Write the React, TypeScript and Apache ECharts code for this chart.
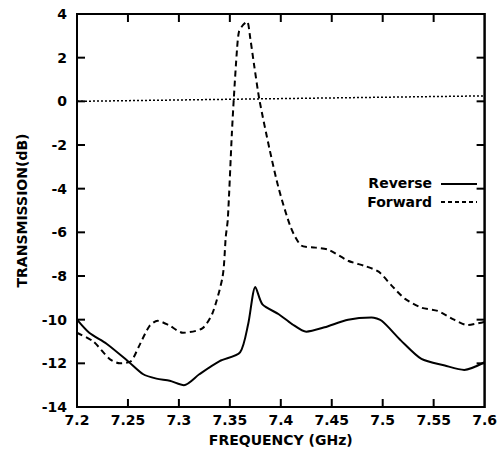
import React, { useEffect, useRef } from "react";
import * as echarts from "echarts";

const xTicks = [7.2, 7.25, 7.3, 7.35, 7.4, 7.45, 7.5, 7.55, 7.6];
const yTicks = [-14, -12, -10, -8, -6, -4, -2, 0, 2, 4];

const reverseFreq = [7.2, 7.212, 7.229, 7.25, 7.265, 7.278, 7.291, 7.305, 7.32, 7.34, 7.36, 7.368, 7.375, 7.382, 7.398, 7.411, 7.425, 7.443, 7.466, 7.489, 7.499, 7.518, 7.538, 7.561, 7.58, 7.6];
const reverseDb = [-10.0, -10.6, -11.1, -11.9, -12.5, -12.7, -12.8, -13.0, -12.5, -11.9, -11.5, -10.2, -8.5, -9.3, -9.75, -10.2, -10.55, -10.35, -10.0, -9.9, -10.05, -10.96, -11.8, -12.1, -12.3, -11.95];

const forwardFreq = [7.2, 7.216, 7.232, 7.242, 7.253, 7.261, 7.271, 7.279, 7.29, 7.304, 7.323, 7.333, 7.343, 7.346, 7.348, 7.352, 7.354, 7.357, 7.359, 7.363, 7.367, 7.37, 7.374, 7.379, 7.389, 7.398, 7.41, 7.42, 7.434, 7.447, 7.466, 7.483, 7.496, 7.509, 7.522, 7.538, 7.554, 7.57, 7.583, 7.595, 7.6];
const forwardDb = [-10.6, -11.0, -11.8, -12.0, -11.9, -11.2, -10.3, -10.05, -10.25, -10.6, -10.4, -9.7, -8.0, -6.2, -5.4, -1.45, 0.22, 2.36, 3.2, 3.5, 3.65, 2.9, 1.6, 0.07, -2.2, -4.0, -5.8, -6.6, -6.7, -6.8, -7.3, -7.55, -7.8, -8.45, -9.05, -9.45, -9.6, -10.0, -10.25, -10.15, -10.1];

const zeroFreq = [7.2, 7.6];
const zeroDb = [0, 0.25];

const legendNames = ["Reverse", "Forward"];

const FONT = "DejaVu Sans";

export default function App() {
  const ref = useRef<HTMLDivElement>(null);
  useEffect(() => {
    if (!ref.current) return;
    document.body.style.margin = "0";
    const chart = echarts.init(ref.current, null, { renderer: "svg" });
    const fmt = (v: number) => String(parseFloat(v.toFixed(2)));
    const labelStyle = () => ({ color: "#000", fontFamily: FONT, fontWeight: "bold" as const, fontSize: 14 });
    const xMin = xTicks[0], xMax = xTicks[xTicks.length - 1];
    const yMin = yTicks[0], yMax = yTicks[yTicks.length - 1];
    chart.setOption({
      animation: false,
      grid: { left: 77, right: 14, top: 14, bottom: 45, show: true, borderColor: "#000", borderWidth: 2 },
      xAxis: {
        type: "value", min: xMin, max: xMax, interval: 0.05,
        axisLine: { show: false }, axisTick: { show: false }, splitLine: { show: false },
        axisLabel: { ...labelStyle(), margin: 6, formatter: fmt },
        name: "FREQUENCY (GHz)", nameLocation: "middle", nameGap: 26,
        nameTextStyle: labelStyle(),
      },
      yAxis: {
        type: "value", min: yMin, max: yMax, interval: 2,
        axisLine: { show: false }, axisTick: { show: false }, splitLine: { show: false },
        axisLabel: { ...labelStyle(), margin: 10 },
        name: "TRANSMISSION(dB)", nameLocation: "middle", nameGap: 48,
        nameTextStyle: labelStyle(),
      },
      series: [
        {
          name: legendNames[0], type: "line", symbol: "none", smooth: 0.25,
          data: reverseFreq.map((f, i) => [f, reverseDb[i]]),
          lineStyle: { color: "#000", width: 2 },
        },
        {
          name: legendNames[1], type: "line", symbol: "none", smooth: 0.25,
          data: forwardFreq.map((f, i) => [f, forwardDb[i]]),
          lineStyle: { color: "#000", width: 2, type: [6, 4] },
        },
        {
          name: "zero", type: "line", symbol: "none",
          data: zeroFreq.map((f, i) => [f, zeroDb[i]]),
          lineStyle: { color: "#000", width: 1.5, type: [2, 2] },
        },
      ],
    });

    // Frame and ticks placed through the chart's own axis scales.
    const px = (v: number) => chart.convertToPixel({ xAxisIndex: 0 }, v) as number;
    const py = (v: number) => chart.convertToPixel({ yAxisIndex: 0 }, v) as number;
    const L = px(xMin), R = px(xMax), B = py(yMin), T = py(yMax);
    const TICK = 8;
    const st = { stroke: "#000", lineWidth: 2 };
    const frame: any[] = [
      { type: "rect", z: 100, shape: { x: L, y: T, width: R - L, height: B - T }, style: { fill: "none", stroke: "#000", lineWidth: 2 } },
    ];
    xTicks.slice(1, -1).forEach((v) => {
      const x = px(v);
      frame.push({ type: "line", z: 100, shape: { x1: x, y1: B, x2: x, y2: B - TICK }, style: st });
      frame.push({ type: "line", z: 100, shape: { x1: x, y1: T, x2: x, y2: T + TICK }, style: st });
    });
    yTicks.slice(1, -1).forEach((v) => {
      const y = py(v);
      frame.push({ type: "line", z: 100, shape: { x1: L, y1: y, x2: L + TICK, y2: y }, style: st });
      frame.push({ type: "line", z: 100, shape: { x1: R, y1: y, x2: R - TICK, y2: y }, style: st });
    });
    const legend: any[] = [
      { type: "text", z: 100, right: 68, top: 176, style: { text: legendNames[0], fill: "#000", font: `bold 14px "${FONT}"`, textAlign: "right" } },
      { type: "line", z: 100, shape: { x1: 441, y1: 184, x2: 477, y2: 184 }, style: { stroke: "#000", lineWidth: 2 } },
      { type: "text", z: 100, right: 68, top: 195, style: { text: legendNames[1], fill: "#000", font: `bold 14px "${FONT}"`, textAlign: "right" } },
      { type: "line", z: 100, shape: { x1: 441, y1: 202, x2: 477, y2: 202 }, style: { stroke: "#000", lineWidth: 2, lineDash: [4, 3] } },
    ];
    chart.setOption({ graphic: [...legend, ...frame] });
    return () => chart.dispose();
  }, []);
  return <div ref={ref} style={{ width: 500, height: 452, background: "#fff" }} />;
}
